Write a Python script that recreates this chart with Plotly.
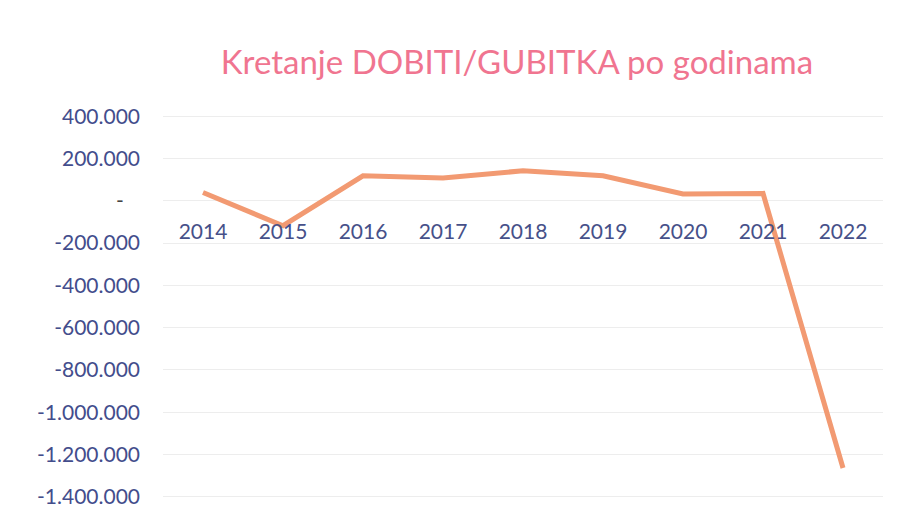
import plotly.graph_objects as go

years = ["2014", "2015", "2016", "2017", "2018", "2019", "2020", "2021", "2022"]
profit = [39000, -118000, 118000, 108000, 142000, 118000, 32000, 35000, -1264000]
y_ticks = [400000, 200000, 0, -200000, -400000, -600000, -800000, -1000000, -1200000, -1400000]

def fmt(v):
    if v == 0:
        return '<span style="color:#444">-</span>\u00a0\u00a0\u00a0'
    s = f"{abs(v):,}".replace(",", ".")
    return ("-" if v < 0 else "") + s

y_min, y_max = -1420000, 420000

fig = go.Figure()
fig.add_trace(go.Scatter(
    x=years, y=profit, mode="lines",
    line=dict(color="#f29a72", width=5),
    hoverinfo="skip", showlegend=False,
))

fig.update_layout(
    width=899, height=522,
    margin=dict(l=163, r=16, t=112, b=21),
    paper_bgcolor="white", plot_bgcolor="white",
    title=dict(
        text="Kretanje DOBITI/GUBITKA po godinama",
        x=0.575, xanchor="center", y=0.88, yanchor="middle",
        font=dict(family="Lato", size=33, color="#f07590"),
    ),
    font=dict(family="Lato", size=21, color="#434d8c"),
)
fig.update_yaxes(
    range=[y_min, y_max],
    tickvals=y_ticks, ticktext=[fmt(v) for v in y_ticks],
    showgrid=True, gridcolor="#ededed", gridwidth=1,
    zeroline=False, showline=False, ticks="",
    ticklabelstandoff=22,
    tickfont=dict(family="Lato", size=21, color="#434d8c"),
)
fig.update_xaxes(
    type="category", range=[-0.5, len(years) - 0.5],
    anchor="free", position=(0 - y_min) / (y_max - y_min),
    showgrid=False, zeroline=False, showline=False, ticks="",
    ticklabelstandoff=16,
    tickfont=dict(family="Lato", size=21, color="#465089"),
)

fig.write_html("out.html")
